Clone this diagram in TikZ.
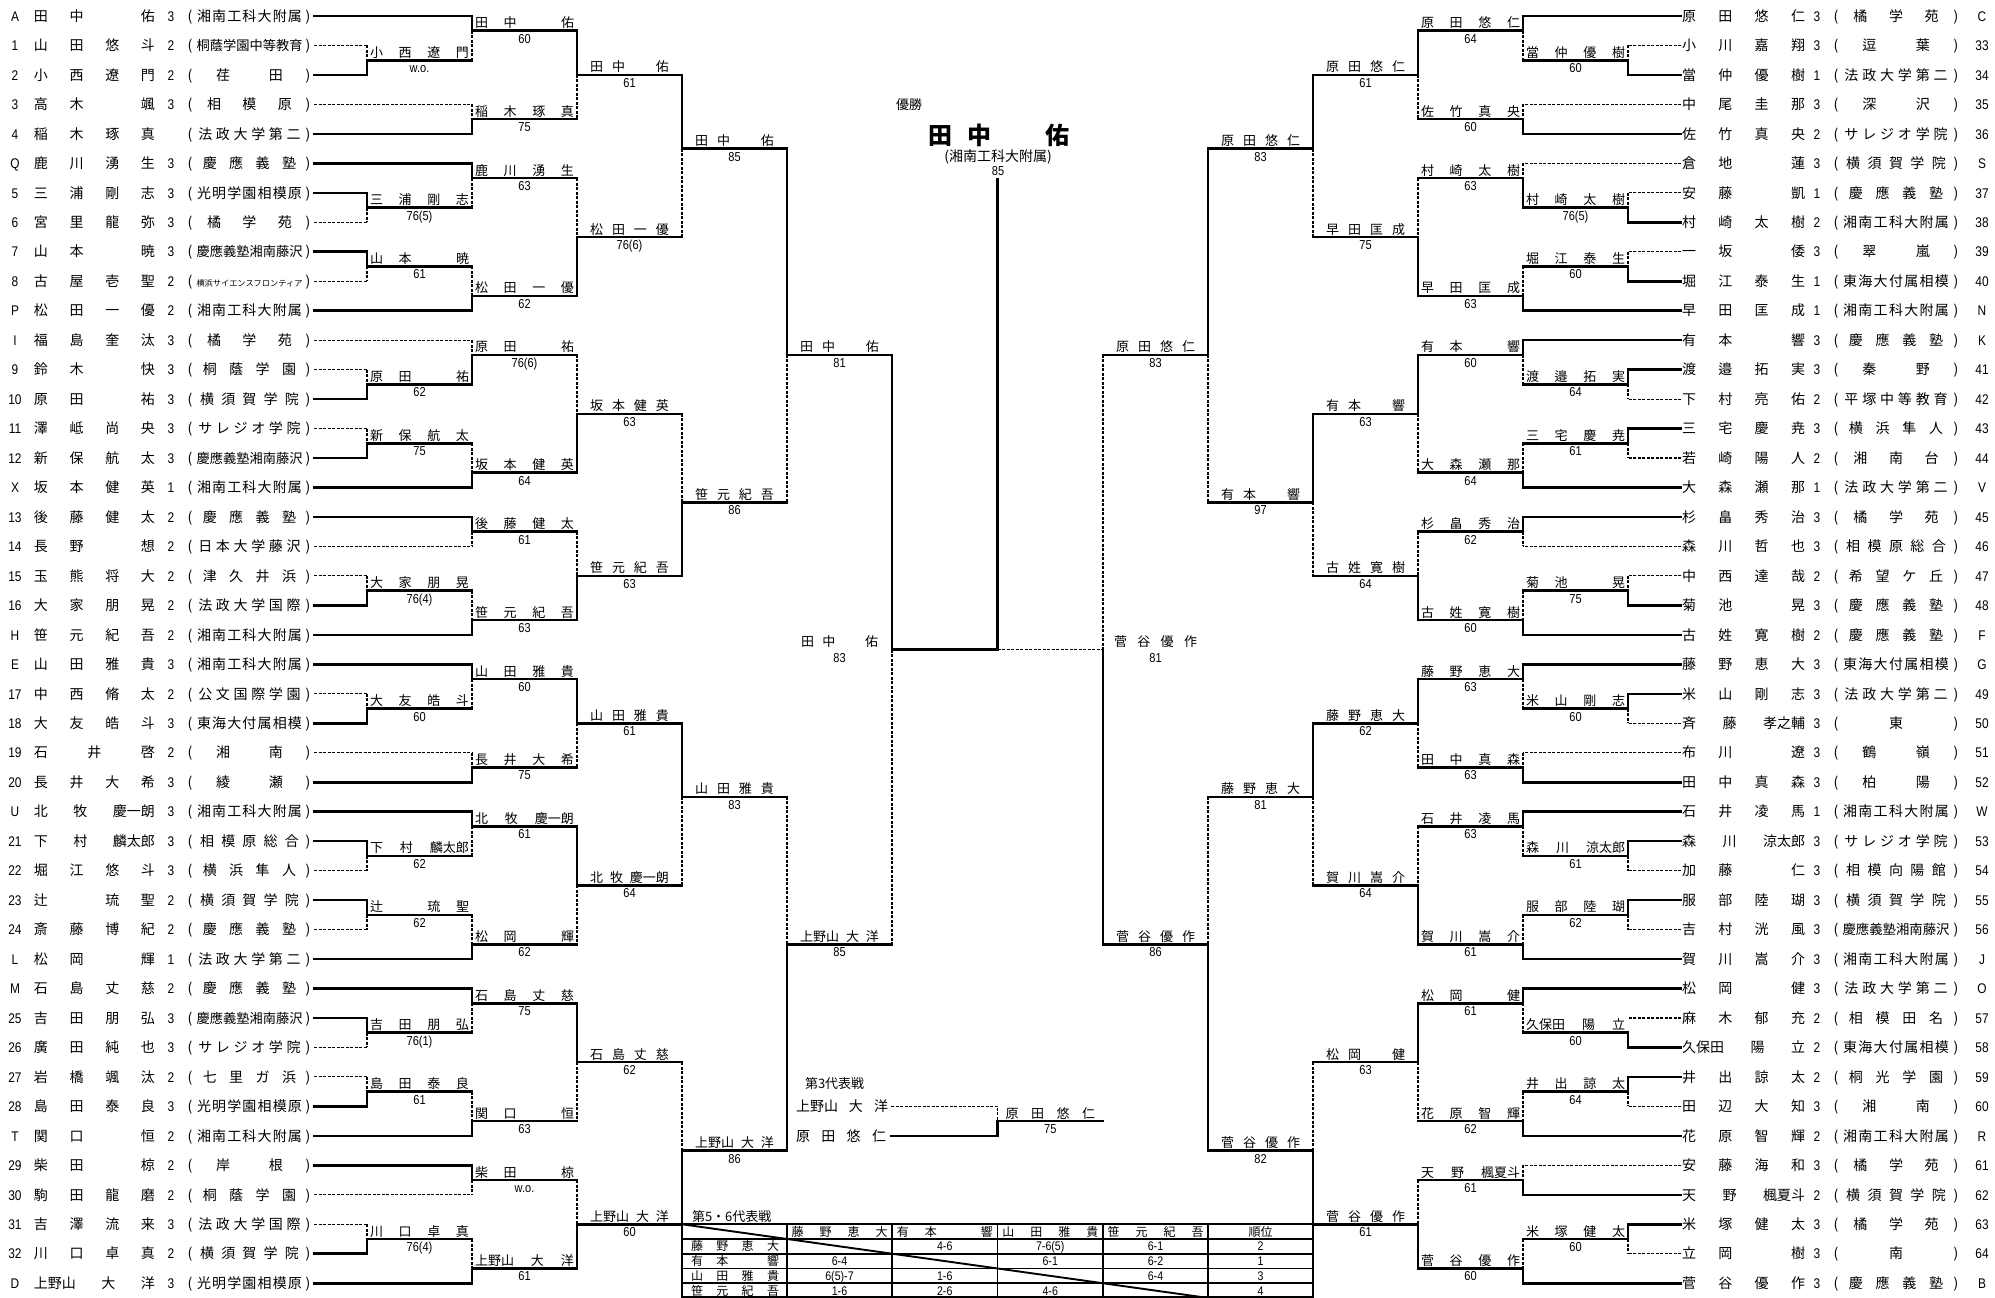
\documentclass[tikz,border=0pt]{standalone}
\usepackage{fontspec}
\usepackage{graphicx}
\usepackage{tikz}
\setmainfont{Noto Sans CJK JP}
\newfontfamily\nrw[FakeStretch=0.85]{Liberation Sans}

\makeatletter
\newif\ifdfirst
\newcommand\dist[1]{\dfirsttrue\@tfor\distitem:=#1\do{\ifdfirst\dfirstfalse\else\hfill\fi\distitem}}
\makeatother
\newcommand\gp{\phantom{田}}
\newlength\schw
\newcommand\sch[2]{\settowidth\schw{#2}\ifdim\schw>#1\relax\resizebox{#1}{!}{#2}\else\makebox[#1]{\hskip0pt plus .5fill\dist{#2}\hskip0pt plus .5fill}\fi}
\newcounter{lbn}

% player rows
\newcommand\lrow[5]{%
  \node[pnum] (ls#1) at (15,#1) {#2};
  \node[plyr, anchor=base west] (ln#1) at (34,#1) {\makebox[121pt]{\dist{#3}}};
  \node[pnum] (lg#1) at (171,#1) {#4};
  \node[plyr] (lo#1) at (190,#1) {(};
  \node[plyr] (lk#1) at (249.5,#1) {\sch{106pt}{#5}};
  \node[plyr] (lc#1) at (308,#1) {)};
}
\newcommand\rrow[5]{%
  \node[plyr, anchor=base west] (rn#1) at (1682,#1) {\makebox[123pt]{\dist{#3}}};
  \node[pnum] (rg#1) at (1817,#1) {#4};
  \node[plyr] (ro#1) at (1836,#1) {(};
  \node[plyr] (rk#1) at (1896,#1) {\sch{107pt}{#5}};
  \node[plyr] (rc#1) at (1956,#1) {)};
  \node[pnum] (rs#1) at (1982,#1) {#2};
}
% label and score over a winner line
\newcommand\lab[6]{%
  \pgfmathsetmacro\lbx{(#1+#2)/2}%
  \pgfmathsetmacro\lbw{abs(#2-#1)-2*#6}%
  \stepcounter{lbn}%
  \node[blab] (lb\arabic{lbn}) at (\lbx,#3) {\makebox[\lbw pt]{\dist{#4}}};
  \node[bscr] (sc\arabic{lbn}) at (\lbx,#3) {#5};
}
% match: vertical x, end x, top row, bottom row, result row, t/b/n, name, score, inset
\newcommand\mt[9]{%
  \if t#6
    \draw[win] (#1,#3) -- (#1,#5);
    \draw[lose] (#1,#5) -- (#1,#4);
  \else\if b#6
    \draw[lose] (#1,#3) -- (#1,#5);
    \draw[win] (#1,#5) -- (#1,#4);
  \else
    \draw[win] (#1,#5) -- (#1,#4);
  \fi\fi
  \draw[win] (#1,#5) -- (#2,#5);
  \lab{#1}{#2}{#5}{#7}{#8}{#9}
}

\begin{document}
\begin{tikzpicture}[x=1pt, y=-29.47pt,
    every node/.style={inner sep=0pt, outer sep=0pt},
    win/.style={line width=2.6pt, line cap=rect},
    lose/.style={line width=1.1pt, dash pattern=on 3pt off 1.5pt},
    plyr/.style={anchor=base, yshift=-5.2pt, font=\fontsize{14}{16}\selectfont},
    pnum/.style={plyr, font=\nrw\fontsize{14}{16}\selectfont},
    blab/.style={anchor=base, yshift=3pt, font=\fontsize{13}{15}\selectfont},
    bscr/.style={anchor=base, yshift=-12.5pt, font=\nrw\fontsize{13}{15}\selectfont},
    tcell/.style={anchor=base, yshift=-4.5pt, font=\fontsize{12}{14}\selectfont},
    tnum/.style={tcell, font=\nrw\fontsize{12.5}{14}\selectfont},
    tbl/.style={line width=1.2pt},
    tbh/.style={line width=1.9pt}
]
\useasboundingbox (0,-0.5429) rectangle (1995,43.502);
\fill[white] (0,-0.5429) rectangle (1995,43.502);

\lrow{0}{A}{田中\gp 佑}{3}{湘南工科大附属}
\lrow{1}{1}{山田悠斗}{2}{桐蔭学園中等教育}
\lrow{2}{2}{小西遼門}{2}{荏田}
\lrow{3}{3}{高木\gp 颯}{3}{相模原}
\lrow{4}{4}{稲木琢真}{}{法政大学第二}
\lrow{5}{Q}{鹿川湧生}{3}{慶應義塾}
\lrow{6}{5}{三浦剛志}{3}{光明学園相模原}
\lrow{7}{6}{宮里龍弥}{3}{橘学苑}
\lrow{8}{7}{山本\gp 暁}{3}{慶應義塾湘南藤沢}
\lrow{9}{8}{古屋壱聖}{2}{横浜サイエンスフロンティア}
\lrow{10}{P}{松田一優}{2}{湘南工科大附属}
\lrow{11}{I}{福島奎汰}{3}{橘学苑}
\lrow{12}{9}{鈴木\gp 快}{3}{桐蔭学園}
\lrow{13}{10}{原田\gp 祐}{3}{横須賀学院}
\lrow{14}{11}{澤岻尚央}{3}{サレジオ学院}
\lrow{15}{12}{新保航太}{3}{慶應義塾湘南藤沢}
\lrow{16}{X}{坂本健英}{1}{湘南工科大附属}
\lrow{17}{13}{後藤健太}{2}{慶應義塾}
\lrow{18}{14}{長野\gp 想}{2}{日本大学藤沢}
\lrow{19}{15}{玉熊将大}{2}{津久井浜}
\lrow{20}{16}{大家朋晃}{2}{法政大学国際}
\lrow{21}{H}{笹元紀吾}{2}{湘南工科大附属}
\lrow{22}{E}{山田雅貴}{3}{湘南工科大附属}
\lrow{23}{17}{中西脩太}{2}{公文国際学園}
\lrow{24}{18}{大友皓斗}{3}{東海大付属相模}
\lrow{25}{19}{石井啓}{2}{湘南}
\lrow{26}{20}{長井大希}{3}{綾瀬}
\lrow{27}{U}{北牧{慶一朗}}{3}{湘南工科大附属}
\lrow{28}{21}{下村{麟太郎}}{3}{相模原総合}
\lrow{29}{22}{堀江悠斗}{3}{横浜隼人}
\lrow{30}{23}{辻\gp 琉聖}{2}{横須賀学院}
\lrow{31}{24}{斎藤博紀}{2}{慶應義塾}
\lrow{32}{L}{松岡\gp 輝}{1}{法政大学第二}
\lrow{33}{M}{石島丈慈}{2}{慶應義塾}
\lrow{34}{25}{吉田朋弘}{3}{慶應義塾湘南藤沢}
\lrow{35}{26}{廣田純也}{3}{サレジオ学院}
\lrow{36}{27}{岩橋颯汰}{2}{七里ガ浜}
\lrow{37}{28}{島田泰良}{3}{光明学園相模原}
\lrow{38}{T}{関口\gp 恒}{2}{湘南工科大附属}
\lrow{39}{29}{柴田\gp 椋}{2}{岸根}
\lrow{40}{30}{駒田龍磨}{2}{桐蔭学園}
\lrow{41}{31}{吉澤流来}{3}{法政大学国際}
\lrow{42}{32}{川口卓真}{2}{横須賀学院}
\lrow{43}{D}{{上野山}大洋}{3}{光明学園相模原}

\rrow{0}{C}{原田悠仁}{3}{橘学苑}
\rrow{1}{33}{小川嘉翔}{3}{逗葉}
\rrow{2}{34}{當仲優樹}{1}{法政大学第二}
\rrow{3}{35}{中尾圭那}{3}{深沢}
\rrow{4}{36}{佐竹真央}{2}{サレジオ学院}
\rrow{5}{S}{倉地\gp 蓮}{3}{横須賀学院}
\rrow{6}{37}{安藤\gp 凱}{1}{慶應義塾}
\rrow{7}{38}{村崎太樹}{2}{湘南工科大附属}
\rrow{8}{39}{一坂\gp 倭}{3}{翠嵐}
\rrow{9}{40}{堀江泰生}{1}{東海大付属相模}
\rrow{10}{N}{早田匡成}{1}{湘南工科大附属}
\rrow{11}{K}{有本\gp 響}{3}{慶應義塾}
\rrow{12}{41}{渡邉拓実}{3}{秦野}
\rrow{13}{42}{下村亮佑}{2}{平塚中等教育}
\rrow{14}{43}{三宅慶尭}{3}{横浜隼人}
\rrow{15}{44}{若崎陽人}{2}{湘南台}
\rrow{16}{V}{大森瀬那}{1}{法政大学第二}
\rrow{17}{45}{杉畠秀治}{3}{橘学苑}
\rrow{18}{46}{森川哲也}{3}{相模原総合}
\rrow{19}{47}{中西達哉}{2}{希望ケ丘}
\rrow{20}{48}{菊池\gp 晃}{3}{慶應義塾}
\rrow{21}{F}{古姓寛樹}{2}{慶應義塾}
\rrow{22}{G}{藤野恵大}{3}{東海大付属相模}
\rrow{23}{49}{米山剛志}{3}{法政大学第二}
\rrow{24}{50}{斉藤{孝之輔}}{3}{東}
\rrow{25}{51}{布川\gp 遼}{3}{鶴嶺}
\rrow{26}{52}{田中真森}{3}{柏陽}
\rrow{27}{W}{石井凌馬}{1}{湘南工科大附属}
\rrow{28}{53}{森川{涼太郎}}{3}{サレジオ学院}
\rrow{29}{54}{加藤\gp 仁}{3}{相模向陽館}
\rrow{30}{55}{服部陸瑚}{3}{横須賀学院}
\rrow{31}{56}{吉村洸風}{3}{慶應義塾湘南藤沢}
\rrow{32}{J}{賀川嵩介}{3}{湘南工科大附属}
\rrow{33}{O}{松岡\gp 健}{3}{法政大学第二}
\rrow{34}{57}{麻木郁充}{2}{相模田名}
\rrow{35}{58}{{久保田}陽立}{2}{東海大付属相模}
\rrow{36}{59}{井出諒太}{2}{桐光学園}
\rrow{37}{60}{田辺大知}{3}{湘南}
\rrow{38}{R}{花原智輝}{2}{湘南工科大附属}
\rrow{39}{61}{安藤海和}{3}{橘学苑}
\rrow{40}{62}{天野{楓夏斗}}{2}{横須賀学院}
\rrow{41}{63}{米塚健太}{3}{橘学苑}
\rrow{42}{64}{立岡\gp 樹}{3}{南}
\rrow{43}{B}{菅谷優作}{3}{慶應義塾}

\foreach \rw/\xe/\st in {0/472/win,1/367/lose,2/367/win,3/472/lose,4/472/win,5/472/win,6/367/win,7/367/lose,8/367/win,9/367/lose,10/472/win,
  11/472/lose,12/367/lose,13/367/win,14/367/lose,15/367/win,16/472/win,17/472/win,18/472/lose,19/367/lose,20/367/win,21/472/win,
  22/472/win,23/367/lose,24/367/win,25/472/lose,26/472/win,27/472/win,28/367/win,29/367/lose,30/367/win,31/367/lose,32/472/win,
  33/472/win,34/367/win,35/367/lose,36/367/lose,37/367/win,38/472/win,39/472/win,40/472/lose,41/367/lose,42/367/win,43/472/win}
  \draw[\st] (314,\rw) -- (\xe,\rw);
\foreach \rw/\xe/\st in {0/1523/win,1/1628/lose,2/1628/win,3/1523/lose,4/1523/win,5/1523/lose,6/1628/lose,7/1628/win,8/1628/lose,9/1628/win,10/1523/win,
  11/1523/win,12/1628/win,13/1628/lose,14/1628/win,15/1628/lose,16/1523/win,17/1523/win,18/1523/lose,19/1628/lose,20/1628/win,21/1523/win,
  22/1523/win,23/1628/win,24/1628/lose,25/1523/lose,26/1523/win,27/1523/win,28/1628/win,29/1628/lose,30/1628/win,31/1628/lose,32/1523/win,
  33/1523/win,34/1628/lose,35/1628/win,36/1628/win,37/1628/lose,38/1523/win,39/1523/lose,40/1523/win,41/1628/win,42/1628/lose,43/1523/win}
  \draw[\st] (1681,\rw) -- (\xe,\rw);

% left half
\mt{367}{472}{1}{2}{1.5}{b}{小西遼門}{w.o.}{3}
\mt{367}{472}{6}{7}{6.5}{t}{三浦剛志}{76(5)}{3}
\mt{367}{472}{8}{9}{8.5}{t}{山本\gp 暁}{61}{3}
\mt{472}{577}{0}{1.5}{0.5}{t}{田中\gp 佑}{60}{3}
\mt{472}{577}{3}{4}{3.5}{b}{稲木琢真}{75}{3}
\mt{472}{577}{5}{6.5}{5.5}{t}{鹿川湧生}{63}{3}
\mt{472}{577}{8.5}{10}{9.5}{b}{松田一優}{62}{3}
\mt{577}{682}{0.5}{3.5}{2}{t}{田中\gp 佑}{61}{13}
\mt{577}{682}{5.5}{9.5}{7.5}{b}{松田一優}{76(6)}{13}
\mt{682}{787}{2}{7.5}{4.5}{t}{田中\gp 佑}{85}{13}
\mt{367}{472}{12}{13}{12.5}{b}{原田\gp 祐}{62}{3}
\mt{367}{472}{14}{15}{14.5}{b}{新保航太}{75}{3}
\mt{367}{472}{19}{20}{19.5}{b}{大家朋晃}{76(4)}{3}
\mt{472}{577}{11}{12.5}{11.5}{b}{原田\gp 祐}{76(6)}{3}
\mt{472}{577}{14.5}{16}{15.5}{b}{坂本健英}{64}{3}
\mt{472}{577}{17}{18}{17.5}{t}{後藤健太}{61}{3}
\mt{472}{577}{19.5}{21}{20.5}{b}{笹元紀吾}{63}{3}
\mt{577}{682}{11.5}{15.5}{13.5}{b}{坂本健英}{63}{13}
\mt{577}{682}{17.5}{20.5}{19}{b}{笹元紀吾}{63}{13}
\mt{682}{787}{13.5}{19}{16.5}{b}{笹元紀吾}{86}{13}
\mt{787}{892}{4.5}{16.5}{11.5}{t}{田中\gp 佑}{81}{13}
\mt{367}{472}{23}{24}{23.5}{b}{大友皓斗}{60}{3}
\mt{367}{472}{28}{29}{28.5}{t}{下村{麟太郎}}{62}{3}
\mt{367}{472}{30}{31}{30.5}{t}{辻\gp 琉聖}{62}{3}
\mt{472}{577}{22}{23.5}{22.5}{t}{山田雅貴}{60}{3}
\mt{472}{577}{25}{26}{25.5}{b}{長井大希}{75}{3}
\mt{472}{577}{27}{28.5}{27.5}{t}{北牧{慶一朗}}{61}{3}
\mt{472}{577}{30.5}{32}{31.5}{b}{松岡\gp 輝}{62}{3}
\mt{577}{682}{22.5}{25.5}{24}{t}{山田雅貴}{61}{13}
\mt{577}{682}{27.5}{31.5}{29.5}{t}{北牧{慶一朗}}{64}{13}
\mt{682}{787}{24}{29.5}{26.5}{t}{山田雅貴}{83}{13}
\mt{367}{472}{34}{35}{34.5}{t}{吉田朋弘}{76(1)}{3}
\mt{367}{472}{36}{37}{36.5}{b}{島田泰良}{61}{3}
\mt{367}{472}{41}{42}{41.5}{b}{川口卓真}{76(4)}{3}
\mt{472}{577}{33}{34.5}{33.5}{t}{石島丈慈}{75}{3}
\mt{472}{577}{36.5}{38}{37.5}{b}{関口\gp 恒}{63}{3}
\mt{472}{577}{39}{40}{39.5}{t}{柴田\gp 椋}{w.o.}{3}
\mt{472}{577}{41.5}{43}{42.5}{b}{{上野山}大洋}{61}{3}
\mt{577}{682}{33.5}{37.5}{35.5}{t}{石島丈慈}{62}{13}
\mt{577}{682}{39.5}{42.5}{41}{b}{{上野山}大洋}{60}{13}
\mt{682}{787}{35.5}{41}{38.5}{b}{{上野山}大洋}{86}{13}
\mt{787}{892}{26.5}{38.5}{31.5}{b}{{上野山}大洋}{85}{13}

% right half
\mt{1628}{1523}{1}{2}{1.5}{b}{當仲優樹}{60}{3}
\mt{1628}{1523}{6}{7}{6.5}{b}{村崎太樹}{76(5)}{3}
\mt{1628}{1523}{8}{9}{8.5}{b}{堀江泰生}{60}{3}
\mt{1523}{1418}{0}{1.5}{0.5}{t}{原田悠仁}{64}{3}
\mt{1523}{1418}{3}{4}{3.5}{b}{佐竹真央}{60}{3}
\mt{1523}{1418}{5}{6.5}{5.5}{b}{村崎太樹}{63}{3}
\mt{1523}{1418}{8.5}{10}{9.5}{b}{早田匡成}{63}{3}
\mt{1418}{1313}{0.5}{3.5}{2}{t}{原田悠仁}{61}{13}
\mt{1418}{1313}{5.5}{9.5}{7.5}{b}{早田匡成}{75}{13}
\mt{1313}{1208}{2}{7.5}{4.5}{t}{原田悠仁}{83}{13}
\mt{1628}{1523}{12}{13}{12.5}{t}{渡邉拓実}{64}{3}
\mt{1628}{1523}{14}{15}{14.5}{t}{三宅慶尭}{61}{3}
\mt{1628}{1523}{19}{20}{19.5}{b}{菊池\gp 晃}{75}{3}
\mt{1523}{1418}{11}{12.5}{11.5}{t}{有本\gp 響}{60}{3}
\mt{1523}{1418}{14.5}{16}{15.5}{b}{大森瀬那}{64}{3}
\mt{1523}{1418}{17}{18}{17.5}{t}{杉畠秀治}{62}{3}
\mt{1523}{1418}{19.5}{21}{20.5}{b}{古姓寛樹}{60}{3}
\mt{1418}{1313}{11.5}{15.5}{13.5}{t}{有本\gp 響}{63}{13}
\mt{1418}{1313}{17.5}{20.5}{19}{b}{古姓寛樹}{64}{13}
\mt{1313}{1208}{13.5}{19}{16.5}{t}{有本\gp 響}{97}{13}
\mt{1208}{1103}{4.5}{16.5}{11.5}{t}{原田悠仁}{83}{13}
\mt{1628}{1523}{23}{24}{23.5}{t}{米山剛志}{60}{3}
\mt{1628}{1523}{28}{29}{28.5}{t}{森川{涼太郎}}{61}{3}
\mt{1628}{1523}{30}{31}{30.5}{t}{服部陸瑚}{62}{3}
\mt{1523}{1418}{22}{23.5}{22.5}{t}{藤野恵大}{63}{3}
\mt{1523}{1418}{25}{26}{25.5}{b}{田中真森}{63}{3}
\mt{1523}{1418}{27}{28.5}{27.5}{t}{石井凌馬}{63}{3}
\mt{1523}{1418}{30.5}{32}{31.5}{b}{賀川嵩介}{61}{3}
\mt{1418}{1313}{22.5}{25.5}{24}{t}{藤野恵大}{62}{13}
\mt{1418}{1313}{27.5}{31.5}{29.5}{b}{賀川嵩介}{64}{13}
\mt{1313}{1208}{24}{29.5}{26.5}{t}{藤野恵大}{81}{13}
\mt{1628}{1523}{34}{35}{34.5}{n}{{久保田}陽立}{60}{3}
\mt{1628}{1523}{36}{37}{36.5}{t}{井出諒太}{64}{3}
\mt{1628}{1523}{41}{42}{41.5}{t}{米塚健太}{60}{3}
\mt{1523}{1418}{33}{34.5}{33.5}{t}{松岡\gp 健}{61}{3}
\mt{1523}{1418}{36.5}{38}{37.5}{b}{花原智輝}{62}{3}
\mt{1523}{1418}{39}{40}{39.5}{b}{天野{楓夏斗}}{61}{3}
\mt{1523}{1418}{41.5}{43}{42.5}{b}{菅谷優作}{60}{3}
\mt{1418}{1313}{33.5}{37.5}{35.5}{t}{松岡\gp 健}{63}{13}
\mt{1418}{1313}{39.5}{42.5}{41}{b}{菅谷優作}{61}{13}
\mt{1313}{1208}{35.5}{41}{38.5}{b}{菅谷優作}{82}{13}
\mt{1208}{1103}{26.5}{38.5}{31.5}{b}{菅谷優作}{86}{13}

% final
\draw[win] (892,11.5) -- (892,21.5);
\draw[lose] (892,21.5) -- (892,31.5);
\draw[lose] (1103,11.5) -- (1103,21.5);
\draw[win] (1103,21.5) -- (1103,31.5);
\lab{787}{892}{21.5}{田中\gp 佑}{83}{14}
\lab{1103}{1208}{21.5}{菅谷優作}{81}{11}
\draw[win] (892,21.5) -- (997.5,21.5);
\draw[lose] (997.5,21.5) -- (1103,21.5);
\draw[line width=2.2pt] (997.5,5.5) -- (997.5,21.5);
\node[font=\fontsize{13}{15}\selectfont] (yusho) at (909,3.02) {優勝};
\node[font=\bfseries\fontsize{24}{28}\selectfont] (champ) at (999,4.04) {\makebox[142pt]{\dist{田中\gp 佑}}};
\node[font=\fontsize{14}{16}\selectfont] (champsch) at (998,4.78) {(湘南工科大附属)};
\node[font=\nrw\fontsize{13}{15}\selectfont] (champscr) at (998,5.26) {85};

% third place
\node[plyr, anchor=west, yshift=0pt, font=\fontsize{13}{15}\selectfont] (tpttl) at (805,36.04) {第3代表戦};
\node[plyr, anchor=base west] (tp1) at (796,37) {\makebox[92pt]{\dist{{上野山}大洋}}};
\node[plyr, anchor=base west] (tp2) at (796,38) {\makebox[90pt]{\dist{原田悠仁}}};
\draw[lose] (891,37) -- (997.5,37) -- (997.5,37.5);
\draw[win] (891,38) -- (997.5,38) -- (997.5,37.5) -- (1103,37.5);
\lab{997.5}{1103}{37.5}{原田悠仁}{75}{8}

% 5th-6th round robin
\node[plyr, anchor=west, yshift=0pt, font=\fontsize{13}{15}\selectfont] (rrttl) at (692,40.55) {第5・6代表戦};
\foreach \cx in {682,787,892,997.5,1103,1208,1313}
  \draw[tbl] (\cx,41) -- (\cx,43.5);
\foreach \cy in {41,41.5,42,42.5,43,43.47}
  \draw[tbh] (682,\cy) -- (1313,\cy);
\draw[line width=1.9pt] (682,41) -- (1208,43.5);
\node[tcell] (h1) at (839.5,41.25) {\makebox[96pt]{\dist{藤野恵大}}};
\node[tcell] (h2) at (944.75,41.25) {\makebox[96pt]{\dist{有本\gp 響}}};
\node[tcell] (h3) at (1050.25,41.25) {\makebox[96pt]{\dist{山田雅貴}}};
\node[tcell] (h4) at (1155.5,41.25) {\makebox[96pt]{\dist{笹元紀吾}}};
\node[tcell] (h5) at (1260.5,41.25) {順位};
\node[tcell] (v1) at (735,41.75) {\makebox[88pt]{\dist{藤野恵大}}};
\node[tcell] (v2) at (735,42.25) {\makebox[88pt]{\dist{有本\gp 響}}};
\node[tcell] (v3) at (735,42.75) {\makebox[88pt]{\dist{山田雅貴}}};
\node[tcell] (v4) at (735,43.25) {\makebox[88pt]{\dist{笹元紀吾}}};
\foreach \cx/\cy/\sv [count=\i] in {944.75/41.75/4-6, 1050.25/41.75/7-6(5), 1155.5/41.75/6-1, 1260.5/41.75/2,
    839.5/42.25/6-4, 1050.25/42.25/6-1, 1155.5/42.25/6-2, 1260.5/42.25/1,
    839.5/42.75/6(5)-7, 944.75/42.75/1-6, 1155.5/42.75/6-4, 1260.5/42.75/3,
    839.5/43.25/1-6, 944.75/43.25/2-6, 1050.25/43.25/4-6, 1260.5/43.25/4}
  \node[tnum] (ts\i) at (\cx,\cy) {\sv};
\end{tikzpicture}
\end{document}
